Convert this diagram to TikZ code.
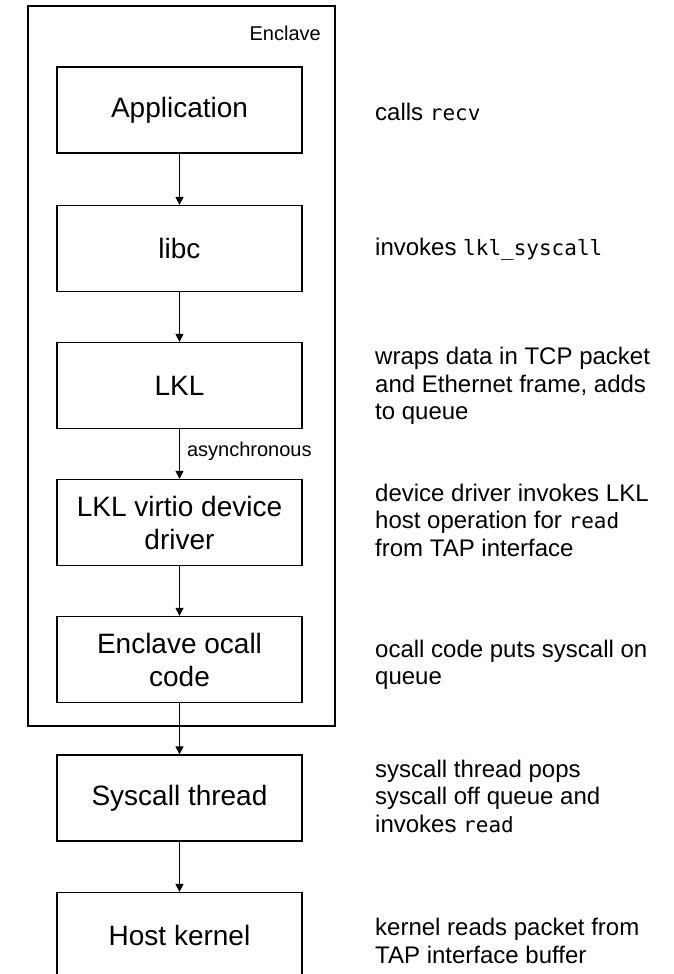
\documentclass[tikz,border=0pt]{standalone}
\usepackage{fontspec}
\setmainfont{Liberation Sans}
\newfontfamily\codefont{DejaVu Sans Mono}
\usetikzlibrary{arrows.meta}
% inline code words in the notes
\newcommand\monoword[1]{{\codefont\fontsize{21}{27.5}\selectfont #1}}

\begin{document}
\begin{tikzpicture}[x=1pt,y=-1pt,
  blockbox/.style={draw, line width=1.3pt, minimum width=245pt, minimum height=86pt,
    inner sep=0pt, align=center, font=\fontsize{28}{33}\selectfont},
  note/.style={anchor=west, align=left, inner sep=0pt, font=\fontsize{24}{27.5}\selectfont},
  small/.style={inner sep=0pt, font=\fontsize{20}{24}\selectfont},
  flow/.style={-{Triangle[length=8pt,width=8pt]}, line width=1.2pt}]

\useasboundingbox (0,0) rectangle (674,974);
\clip (0,0) rectangle (674,974);
\fill[white] (0,0) rectangle (674,974);

% enclave boundary
\node (enclave) [draw, line width=1.3pt, minimum width=307pt, minimum height=720pt, inner sep=0pt] at (181.5,366) {};
\node (enclavelabel) [small, anchor=east] at (321,33) {Enclave};

% processing stages
\node (app)    [blockbox] at (179.5,110)   {Application};
\node (libc)   [blockbox] at (179.5,248.5) {libc};
\node (lkl)    [blockbox] at (179.5,385.5) {LKL};
\node (virtio) [blockbox] at (179.5,522.5) {LKL virtio device\\driver};
\node (ocall)  [blockbox] at (179.5,659.5) {Enclave ocall\\code};
\node (sys)    [blockbox] at (179.5,798)   {Syscall thread};
\node (host)   [blockbox] at (179.5,935.5) {Host kernel};

% connectors
\draw[flow] (app) -- (libc);
\draw[flow] (libc) -- (lkl);
\draw[flow] (lkl) -- node[small, anchor=west, xshift=7pt, yshift=3pt] (async) {asynchronous} (virtio);
\draw[flow] (virtio) -- (ocall);
\draw[flow] (ocall) -- (sys);
\draw[flow] (sys) -- (host);

% descriptions
\node (n1) [note] at (375,112) {calls \monoword{recv}};
\node (n2) [note] at (375,249) {invokes \monoword{lkl\_syscall}};
\node (n3) [note] at (375,386) {wraps data in TCP packet\\and Ethernet frame, adds\\to queue};
\node (n4) [note] at (375,520) {device driver invokes LKL\\host operation for \monoword{read}\\from TAP interface};
\node (n5) [note] at (375,665) {ocall code puts syscall on\\queue};
\node (n6) [note] at (375,796) {syscall thread pops\\syscall off queue and\\invokes \monoword{read}};
\node (n7) [note] at (375,941) {kernel reads packet from\\TAP interface buffer};
\end{tikzpicture}
\end{document}
